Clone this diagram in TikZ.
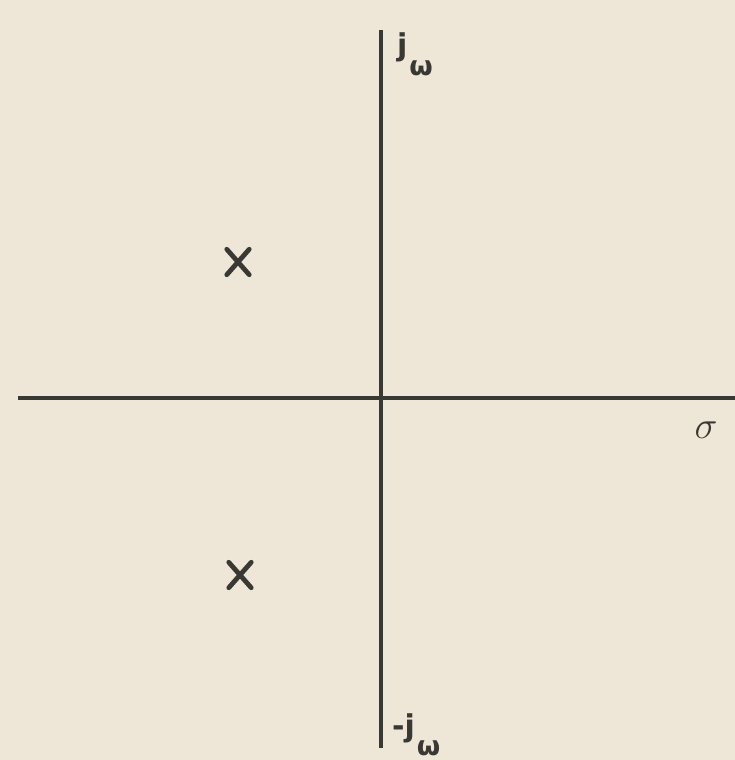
\documentclass[tikz,border=0pt]{standalone}
\usepackage{fontspec}
\setsansfont{DejaVu Sans}
\begin{document}
\begin{tikzpicture}[x=1pt,y=-1pt,
  axis/.style={line width=3.4pt,draw=inkc},
  pole/.style={line width=4.8pt,draw=inkc,line cap=round},
  polebox/.style={minimum width=22pt,minimum height=25pt,inner sep=0pt},
  lbl/.style={text=inkc,inner sep=0pt,anchor=base west,font=\sffamily\bfseries\fontsize{30}{32}\selectfont}]
\definecolor{paper}{HTML}{EEE7D7}
\definecolor{inkc}{HTML}{3A3833}
\fill[paper] (0,0) rectangle (735,760);
\useasboundingbox (0,0) rectangle (735,760);
\coordinate (vtop) at (381,30);
\coordinate (vbot) at (381,748);
\coordinate (hleft) at (18,398);
\coordinate (hright) at (735,398);
\draw[axis] (vtop) -- (vbot);
\draw[axis] (hleft) -- (hright);
\node[lbl] (jw) at (397,56) {j\hspace{2pt}\raisebox{-20pt}{\fontsize{27}{28}\selectfont ω}};
\node[lbl] (mjw) at (392,736) {-j\hspace{2pt}\raisebox{-19pt}{\fontsize{27}{28}\selectfont ω}};
\node[text=inkc,inner sep=0pt] (sig) at (706,430) {\scalebox{1.55}{\fontsize{24}{26}\selectfont$\sigma$}};
\node[polebox] (p1) at (238,262) {};
\node[polebox] (p2) at (240,575) {};
\draw[pole] (p1.north west) -- (p1.south east) (p1.north east) -- (p1.south west);
\draw[pole] (p2.north west) -- (p2.south east) (p2.north east) -- (p2.south west);
\end{tikzpicture}
\end{document}
